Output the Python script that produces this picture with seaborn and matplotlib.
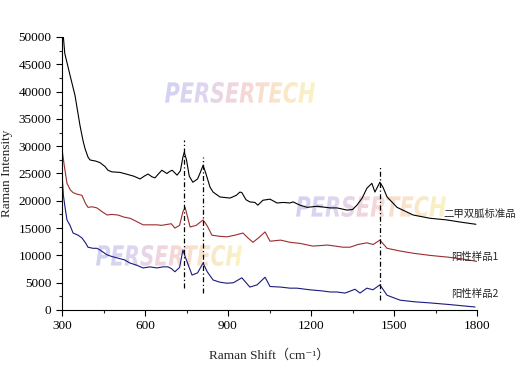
import numpy as np
import pandas as pd
import matplotlib
matplotlib.use("Agg")
import matplotlib.pyplot as plt
import seaborn as sns
from matplotlib.textpath import TextPath
from matplotlib.font_manager import FontProperties
from matplotlib.patches import PathPatch
from matplotlib.transforms import Affine2D
from matplotlib.colors import LinearSegmentedColormap
from matplotlib.ticker import MultipleLocator

# Standard (metformin reference) spectrum
std_x = [305, 310, 329, 347, 365, 376, 383, 394, 401, 408, 420, 437, 455, 466, 480, 510,
         539, 560, 582, 600, 611, 625, 636, 650, 661, 670, 679, 690, 698, 716, 728, 737,
         742, 750, 760, 773, 790, 800, 810, 820, 835, 846, 871, 907, 930, 943, 950, 965,
         979, 997, 1008, 1026, 1052, 1077, 1100, 1124, 1135, 1160, 1186, 1222, 1269, 1294,
         1330, 1350, 1366, 1385, 1402, 1420, 1431, 1440, 1449, 1460, 1475, 1511, 1569,
         1630, 1691, 1740, 1796]
std_y = [50000, 47000, 43000, 39300, 33800, 31000, 29600, 28000, 27500, 27400, 27300, 27000,
         26300, 25600, 25300, 25200, 24800, 24500, 24000, 24600, 24900, 24400, 24200, 25000,
         25600, 25300, 25000, 25400, 25600, 24700, 25500, 28000, 28900, 27500, 24500, 23400,
         24000, 25200, 26500, 25000, 22500, 21600, 20700, 20500, 21000, 21600, 21500, 20200,
         19800, 19700, 19200, 20100, 20300, 19600, 19700, 19600, 19800, 19200, 18800, 19000,
         18700, 18700, 18300, 18400, 19200, 20500, 22300, 23200, 21600, 22500, 23400, 22500,
         20700, 18800, 17400, 16800, 16500, 16100, 15700]

# Positive sample 1
s1_x = [300, 308, 318, 330, 340, 355, 372, 385, 394, 410, 426, 445, 463, 480, 502, 525,
        546, 570, 593, 618, 643, 660, 683, 695, 708, 725, 737, 745, 763, 785, 810, 825,
        842, 870, 896, 925, 954, 970, 990, 1010, 1034, 1052, 1090, 1124, 1160, 1207, 1260,
        1316, 1341, 1370, 1402, 1425, 1449, 1475, 1522, 1569, 1630, 1691, 1740, 1800]
s1_y = [29600, 26500, 23200, 22000, 21500, 21200, 21000, 19500, 18800, 18900, 18700, 18000,
        17400, 17500, 17400, 17000, 16800, 16200, 15600, 15600, 15600, 15500, 15700, 15800,
        15000, 15500, 18000, 18800, 15200, 15500, 16500, 15400, 13700, 13500, 13400, 13700,
        14100, 13300, 12400, 13200, 14300, 12600, 12800, 12400, 12200, 11700, 11900, 11500,
        11500, 12000, 12300, 12000, 12800, 11300, 10800, 10400, 10000, 9700, 9400, 8900]

# Positive sample 2
s2_x = [300, 305, 311, 318, 329, 340, 358, 372, 385, 394, 412, 426, 437, 463, 480, 502,
        525, 546, 570, 593, 618, 643, 665, 683, 695, 708, 725, 737, 745, 770, 790, 810,
        825, 846, 870, 896, 920, 950, 979, 1005, 1034, 1052, 1090, 1124, 1149, 1196, 1240,
        1269, 1294, 1323, 1359, 1377, 1402, 1424, 1449, 1475, 1522, 1575, 1630, 1700, 1793]
s2_y = [25000, 21000, 18800, 16500, 15500, 14100, 13700, 13200, 12300, 11500, 11300, 11300,
        11000, 10100, 9800, 9500, 9200, 8600, 8200, 7700, 7900, 7700, 7900, 7900, 7600,
        7000, 7800, 11000, 9800, 6400, 6800, 8600, 7000, 5500, 5100, 4900, 5000, 5900,
        4200, 4600, 6000, 4300, 4200, 4000, 4000, 3700, 3500, 3300, 3300, 3100, 3800, 3100,
        4000, 3700, 4600, 2700, 1800, 1500, 1300, 1000, 550]

series_names = ["二甲双胍标准品", "阳性样品1", "阳性样品2"]
series_colors = ["#000000", "#9b2d2d", "#1a1a80"]

# marker lines at characteristic peaks
peak_x = [742, 810, 1449]
peak_lo = [4000, 3100, 1800]
peak_hi = [31100, 28000, 26500]

# where the series names sit
label_x = [1677, 1706, 1706]
label_y = [17600, 9700, 2900]

df = pd.concat([
    pd.DataFrame({"shift": std_x, "intensity": std_y, "sample": series_names[0]}),
    pd.DataFrame({"shift": s1_x, "intensity": s1_y, "sample": series_names[1]}),
    pd.DataFrame({"shift": s2_x, "intensity": s2_y, "sample": series_names[2]}),
])

sns.set_style("ticks")
plt.rcParams["font.family"] = ["Liberation Serif", "DejaVu Serif", "Noto Sans CJK SC"]
plt.rcParams["xtick.direction"] = "out"
plt.rcParams["ytick.direction"] = "out"

fig = plt.figure(figsize=(5.2, 3.85), dpi=100)

# watermark layer (behind the plot), in pixel coordinates
bg = fig.add_axes([0, 0, 1, 1], zorder=0)
bg.axis("off")
wm_cmap = LinearSegmentedColormap.from_list(
    "wm", ["#c4c4ee", "#d4c8ec", "#f2c8cc", "#f8dcb8", "#f6f0b0"])
wm_font = FontProperties(family="DejaVu Sans", weight="bold", style="italic")


def watermark(x0, y0, w, h):
    tp = TextPath((0, 0), "PERSERTECH", size=1, prop=wm_font)
    ext = tp.get_extents()
    tr = (Affine2D().translate(-ext.x0, -ext.y0)
          .scale(w / ext.width, -h / ext.height).translate(x0, y0 + h))
    path = tr.transform_path(tp)
    patch = PathPatch(path, facecolor="none", edgecolor="none")
    bg.add_patch(patch)
    grad = np.linspace(0, 1, 200).reshape(1, -1)
    im = bg.imshow(grad, cmap=wm_cmap, extent=[x0, x0 + w, y0 + h, y0],
                   aspect="auto", alpha=0.75, interpolation="bilinear")
    im.set_clip_path(patch)


watermark(165, 82, 150, 21)
watermark(296, 196, 150, 21)
watermark(96, 245, 146, 21)
bg.set_xlim(0, 520)
bg.set_ylim(385, 0)

ax = fig.add_axes([62 / 520, 75 / 385, 415 / 520, 273 / 385], zorder=1)
ax.patch.set_alpha(0)

sns.lineplot(data=df, x="shift", y="intensity", hue="sample", palette=series_colors,
             linewidth=0.8, legend=False, ax=ax, sort=True, estimator=None)

ax.vlines(peak_x, peak_lo, peak_hi, colors="black", linestyles=(0, (4, 2, 1, 2)),
          linewidth=0.9)

for name, lx, ly in zip(series_names, label_x, label_y):
    ax.text(lx, ly, name, fontsize=7.5, family=["Noto Sans CJK SC", "DejaVu Sans"],
            va="center", ha="left", clip_on=False)

ax.set_xlim(300, 1800)
ax.set_ylim(0, 50000)
ax.xaxis.set_major_locator(MultipleLocator(300))
ax.xaxis.set_minor_locator(MultipleLocator(150))
ax.yaxis.set_major_locator(MultipleLocator(5000))
ax.yaxis.set_minor_locator(MultipleLocator(2500))
ax.tick_params(which="major", length=4, width=0.8, labelsize=9.5, colors="black")
ax.tick_params(which="minor", length=2.5, width=0.8)
sns.despine(ax=ax)
for s in ["left", "bottom"]:
    ax.spines[s].set_linewidth(0.8)
    ax.spines[s].set_color("black")

ax.set_xlabel("Raman Shift（cm⁻¹）", fontsize=9.5, labelpad=12)
ax.set_ylabel("Raman Intensity", fontsize=9.5, labelpad=4)

fig.savefig("out.png", dpi=100)
